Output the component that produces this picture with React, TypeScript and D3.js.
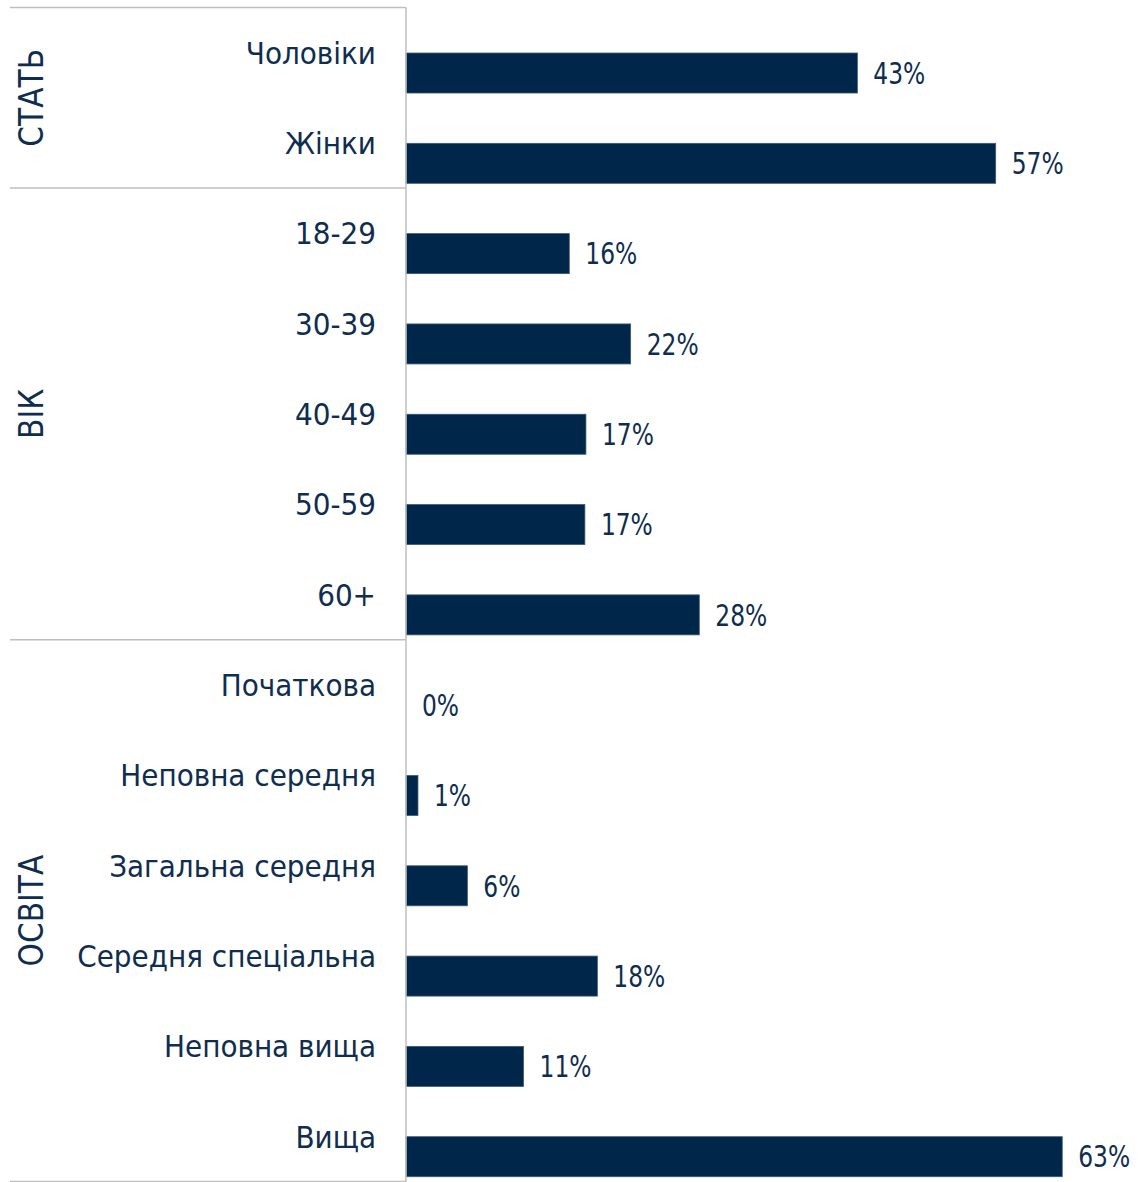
import React from "react";
import * as d3 from "d3";

const categories = [
  "Чоловіки", "Жінки",
  "18-29", "30-39", "40-49", "50-59", "60+",
  "Початкова", "Неповна середня", "Загальна середня", "Середня спеціальна", "Неповна вища", "Вища",
];
const values = [43.4, 56.7, 15.7, 21.6, 17.3, 17.2, 28.2, 0, 1.15, 5.9, 18.4, 11.3, 63.1];
const valueLabels = ["43%", "57%", "16%", "22%", "17%", "17%", "28%", "0%", "1%", "6%", "18%", "11%", "63%"];
const groups = ["СТАТЬ", "ВІК", "ОСВІТА"];
const groupSizes = [2, 5, 6];

const W = 1138;
const H = 1182;
const FONT = "'DejaVu Sans Condensed', 'DejaVu Sans', sans-serif";
const TEXT = "#0f2d4f";
const BAR = "#00264a";
const LINE = "#bfbfbf";

export default function App() {
  const top = 7.5;
  const bottom = 1181.5;
  const axisX = 406;
  const y = d3.scaleBand<number>().domain(d3.range(categories.length)).range([top, bottom]).padding(0);
  const step = y.step();
  const x = d3.scaleLinear().domain([0, 70]).range([axisX, axisX + 728]);

  const barOffset = step * 0.504;
  const barH = step * 0.443;

  const bounds: number[] = [0];
  groupSizes.forEach((s, i) => bounds.push(bounds[i] + s));

  return (
    <svg width={W} height={H} style={{ position: "absolute", left: 0, top: 0 }} fontFamily={FONT}>
      <rect width={W} height={H} fill="#fff" />
      {values.map((v, i) => {
        const by = (y(i) as number) + barOffset;
        return (
          <g key={i}>
            {v > 0 && (
              <rect x={x(0)} y={by} width={x(v) - x(0)} height={barH} fill={BAR} stroke="#3d5877" strokeWidth={0.8} />
            )}
            <g transform={`translate(${x(v) + 16},${by + barH / 2}) scale(1,1.15)`}>
              <text x={0} y={0} dy="0.36em" fontSize={26} fill={TEXT}>
                {valueLabels[i]}
              </text>
            </g>
            <text x={376} y={(y(i) as number) + step / 2} dy="0.36em" fontSize={31} fill={TEXT} textAnchor="end">
              {categories[i]}
            </text>
          </g>
        );
      })}
      {bounds.map((b, i) => {
        const yy = top + b * step;
        return <line key={i} x1={10} x2={axisX} y1={yy} y2={yy} stroke={LINE} strokeWidth={1.5} />;
      })}
      {groups.map((g, i) => {
        const y0 = top + bounds[i] * step;
        const y1 = top + bounds[i + 1] * step;
        const cy = (y0 + y1) / 2;
        return (
          <text key={g} transform={`translate(31,${cy}) rotate(-90)`} textAnchor="middle" dy="0.36em" fontSize={33} fill={TEXT}>
            {g}
          </text>
        );
      })}
      <line x1={axisX} x2={axisX} y1={top} y2={H} stroke={LINE} strokeWidth={1.5} />
    </svg>
  );
}
